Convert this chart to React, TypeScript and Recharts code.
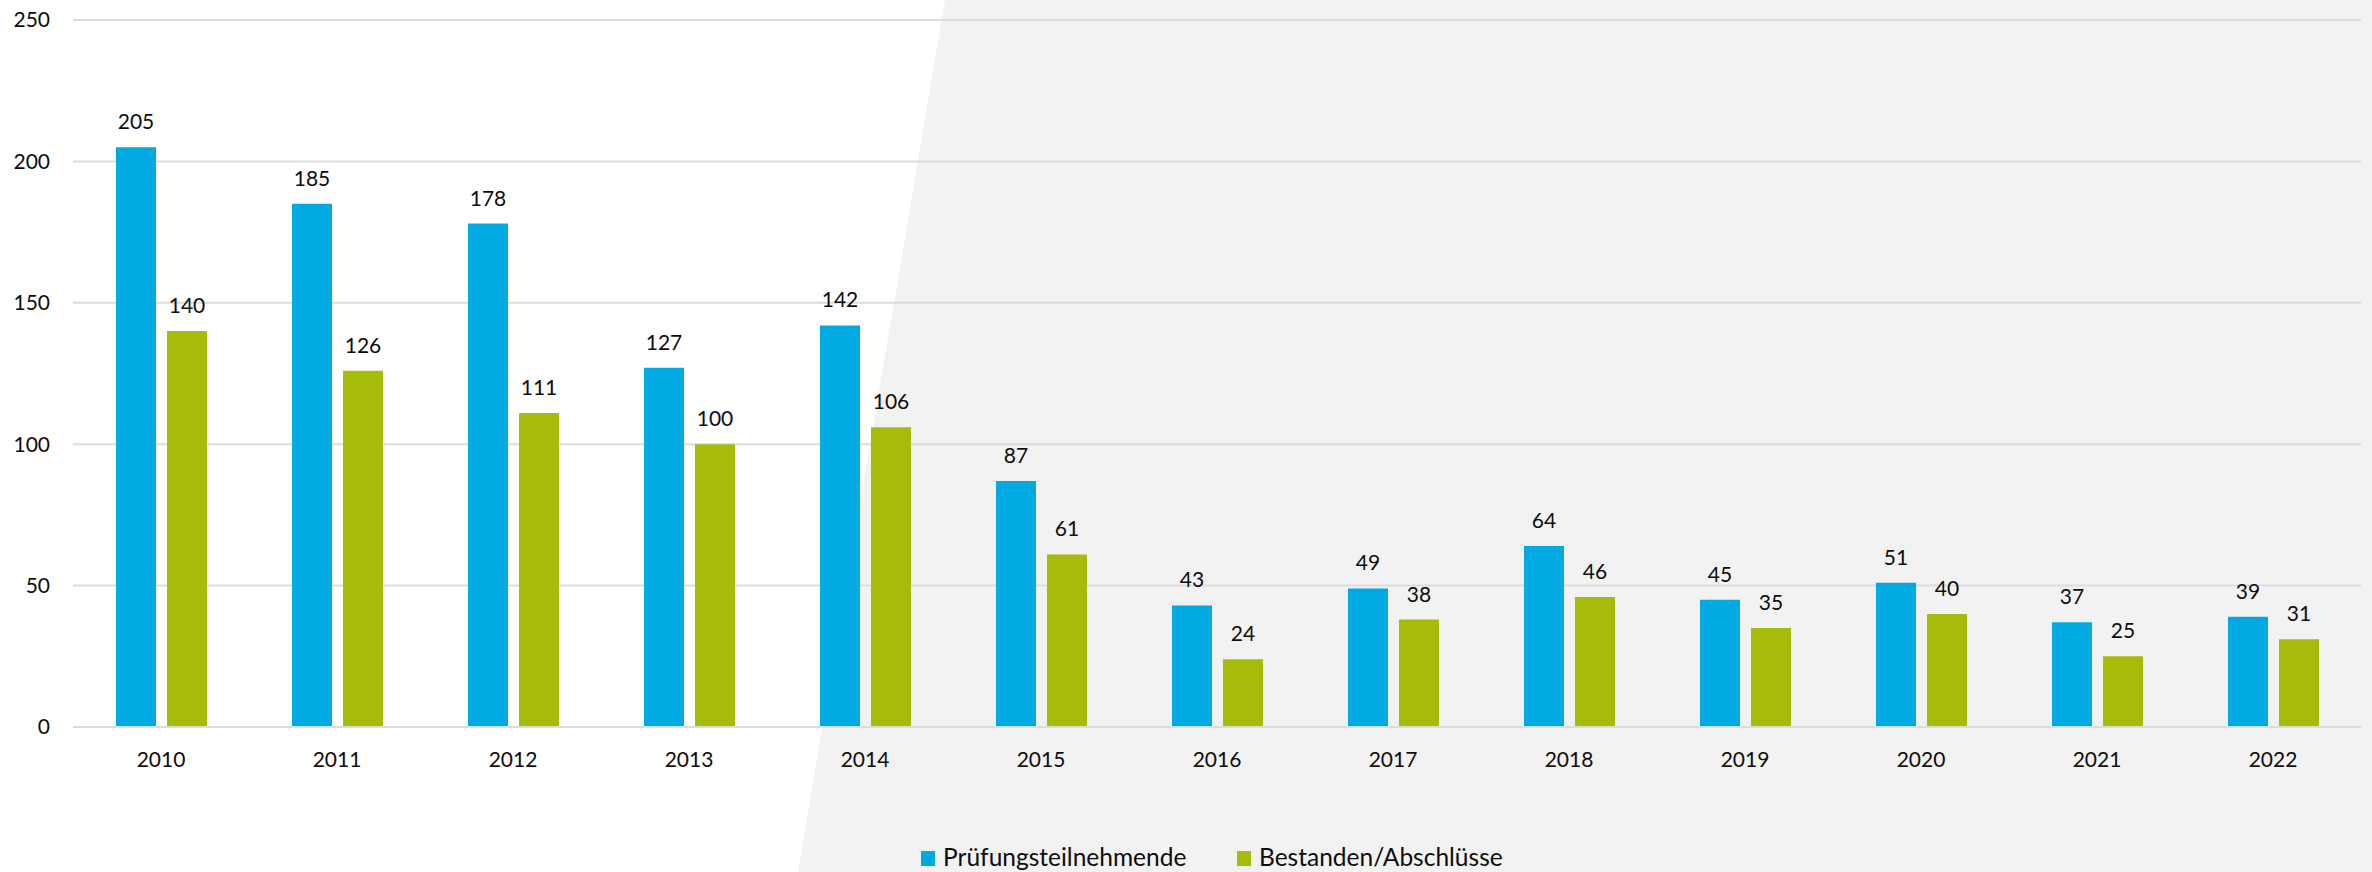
import { Bar, BarChart, CartesianGrid, LabelList, Legend, XAxis, YAxis } from "recharts";

const jahre = ["2010", "2011", "2012", "2013", "2014", "2015", "2016", "2017", "2018", "2019", "2020", "2021", "2022"];
const teilnehmende = [205, 185, 178, 127, 142, 87, 43, 49, 64, 45, 51, 37, 39];
const bestanden = [140, 126, 111, 100, 106, 61, 24, 38, 46, 35, 40, 25, 31];
const yTicks = [0, 50, 100, 150, 200, 250];

const BLAU = "#00aae1";
const GRUEN = "#a6bc09";
const SCHRIFT = "Lato, 'Open Sans', sans-serif";

const data = jahre.map((jahr, i) => ({
  jahr,
  teilnehmende: teilnehmende[i],
  bestanden: bestanden[i],
}));

// Legende mit festen Abständen wie im Original
function Legende() {
  const items = [
    { name: "Prüfungsteilnehmende", color: BLAU, left: 921 },
    { name: "Bestanden/Abschlüsse", color: GRUEN, left: 1237 },
  ];
  return (
    <div style={{ position: "relative", width: 2372, height: 50, fontFamily: SCHRIFT, fontSize: 24.5, color: "#0d0d0d" }}>
      {items.map((item) => (
        <div key={item.name}>
          <span
            style={{ position: "absolute", left: item.left, top: 29, width: 14, height: 15, background: item.color }}
          />
          <span style={{ position: "absolute", left: item.left + 22, top: 20, lineHeight: "30px", whiteSpace: "nowrap" }}>
            {item.name}
          </span>
        </div>
      ))}
    </div>
  );
}

export default function App() {
  return (
    <div style={{ position: "absolute", left: 0, top: 0, width: 2372, height: 872, background: "#ffffff" }}>
      <svg width={2372} height={872} style={{ position: "absolute", left: 0, top: 0 }}>
        <polygon points="945,0 2372,0 2372,872 798,872" fill="#f2f2f2" />
      </svg>
      <div style={{ position: "absolute", left: 0, top: 0 }}>
        <BarChart
          width={2372}
          height={872}
          data={data}
          margin={{ top: 20, right: 11, left: 0, bottom: 0 }}
          barSize={40}
          barGap={11}
        >
          <CartesianGrid vertical={false} stroke="#dcdcdc" strokeWidth={2} />
          <XAxis
            dataKey="jahr"
            height={95}
            tickLine={false}
            axisLine={{ stroke: "#dcdcdc", strokeWidth: 2 }}
            tickMargin={19}
            tick={{ fill: "#0d0d0d", fontSize: 21, fontFamily: SCHRIFT }}
          />
          <YAxis
            width={73}
            domain={[0, 250]}
            ticks={yTicks}
            tickLine={false}
            axisLine={false}
            tickMargin={17}
            tick={{ fill: "#0d0d0d", fontSize: 21, fontFamily: SCHRIFT }}
          />
          <Legend verticalAlign="bottom" align="left" content={() => <Legende />} />
          <Bar dataKey="teilnehmende" name="Prüfungsteilnehmende" fill={BLAU} isAnimationActive={false}>
            <LabelList dataKey="teilnehmende" position="top" offset={18} fill="#0d0d0d" fontSize={21} fontFamily={SCHRIFT} />
          </Bar>
          <Bar dataKey="bestanden" name="Bestanden/Abschlüsse" fill={GRUEN} isAnimationActive={false}>
            <LabelList dataKey="bestanden" position="top" offset={18} fill="#0d0d0d" fontSize={21} fontFamily={SCHRIFT} />
          </Bar>
        </BarChart>
      </div>
    </div>
  );
}
